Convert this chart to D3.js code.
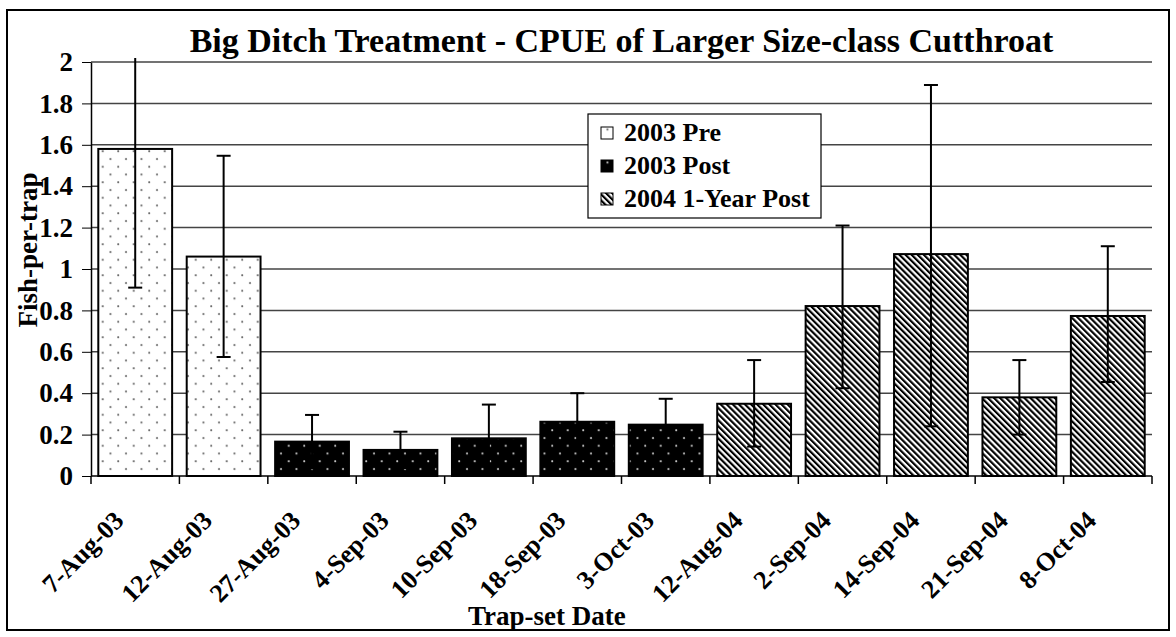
<!DOCTYPE html>
<html>
<head>
<meta charset="utf-8">
<script src="https://cdn.jsdelivr.net/npm/d3@7"></script>
<style>
  body { margin: 0; background: #fff; }
  svg text { font-family: "Liberation Serif", "Times New Roman", serif; font-weight: bold; }
</style>
</head>
<body>
<svg id="chart" width="1176" height="637"></svg>
<script>
// data
const dates = ["7-Aug-03", "12-Aug-03", "27-Aug-03", "4-Sep-03", "10-Sep-03", "18-Sep-03",
  "3-Oct-03", "12-Aug-04", "2-Sep-04", "14-Sep-04", "21-Sep-04", "8-Oct-04"];
const groups = ["pre", "pre", "post", "post", "post", "post", "post", "yr", "yr", "yr", "yr", "yr"];
const cpue = [1.58, 1.06, 0.166, 0.126, 0.182, 0.262, 0.248, 0.349, 0.821, 1.072, 0.38, 0.773];
const errHigh = [2.1, 1.547, 0.295, 0.214, 0.345, 0.40, 0.373, 0.56, 1.21, 1.889, 0.56, 1.11];
const errLow = [0.91, 0.575, 0.037, 0.038, 0.019, 0.124, 0.123, 0.142, 0.424, 0.24, 0.20, 0.454];
const yTicks = [0, 0.2, 0.4, 0.6, 0.8, 1, 1.2, 1.4, 1.6, 1.8, 2];
const legendKeys = ["pre", "post", "yr"];
const legendLabels = ["2003 Pre", "2003 Post", "2004 1-Year Post"];

const data = dates.map((d, i) => ({date: d, group: groups[i], v: cpue[i], hi: errHigh[i], lo: errLow[i]}));

// svg setting
const svg = d3.select("#chart");
const margin = {top: 62, right: 24, bottom: 161, left: 91};
const width = +svg.attr("width") - margin.left - margin.right;
const height = +svg.attr("height") - margin.top - margin.bottom;

// outer frame
svg.append("rect")
  .attr("x", 7).attr("y", 10).attr("width", 1162).attr("height", 620)
  .attr("fill", "none").attr("stroke", "#000").attr("stroke-width", 2);

// fill patterns
const defs = svg.append("defs");
const pre = defs.append("pattern").attr("id", "pat-pre")
  .attr("patternUnits", "userSpaceOnUse").attr("width", 15.5).attr("height", 15.5);
pre.append("rect").attr("width", 15.5).attr("height", 15.5).attr("fill", "#fff");
pre.append("circle").attr("cx", 4).attr("cy", 4).attr("r", 1).attr("fill", "#666");
pre.append("circle").attr("cx", 11.75).attr("cy", 11.75).attr("r", 1).attr("fill", "#666");

const post = defs.append("pattern").attr("id", "pat-post")
  .attr("patternUnits", "userSpaceOnUse").attr("width", 15.5).attr("height", 15.5);
post.append("rect").attr("width", 15.5).attr("height", 15.5).attr("fill", "#000");
post.append("circle").attr("cx", 4).attr("cy", 4).attr("r", 1).attr("fill", "#ccc");
post.append("circle").attr("cx", 11.75).attr("cy", 11.75).attr("r", 1).attr("fill", "#ccc");

const yr = defs.append("pattern").attr("id", "pat-yr")
  .attr("patternUnits", "userSpaceOnUse").attr("width", 4.3).attr("height", 10)
  .attr("patternTransform", "rotate(-45)");
yr.append("rect").attr("width", 4.3).attr("height", 10).attr("fill", "#fff");
yr.append("rect").attr("width", 2.15).attr("height", 10).attr("fill", "#000");

const fillOf = g => `url(#pat-${g})`;

defs.append("clipPath").attr("id", "plot-clip")
  .append("rect").attr("x", 0).attr("y", -4).attr("width", width).attr("height", height + 4);

const g = svg.append("g").attr("transform", `translate(${margin.left},${margin.top})`);

const x = d3.scaleBand().domain(dates).range([0, width]).paddingInner(0.165).paddingOuter(0.0825);
const xEdge = d3.scaleLinear().domain([0, dates.length]).range([0, width]);
const y = d3.scaleLinear().domain([0, 2]).range([height, 0]);

// gridlines
g.append("g").selectAll("line").data(yTicks.slice(1)).join("line")
  .attr("x1", 0).attr("x2", width)
  .attr("y1", d => y(d)).attr("y2", d => y(d))
  .attr("stroke", "#444").attr("stroke-width", 1.5);

// bars
g.append("g").selectAll("rect").data(data).join("rect")
  .attr("x", d => x(d.date))
  .attr("y", d => y(d.v))
  .attr("width", x.bandwidth())
  .attr("height", d => y(0) - y(d.v))
  .attr("fill", d => fillOf(d.group))
  .attr("stroke", "#000").attr("stroke-width", 2);

// error bars
const eb = g.append("g").attr("clip-path", "url(#plot-clip)")
  .selectAll("g").data(data).join("g")
  .attr("transform", d => `translate(${x(d.date) + x.bandwidth() / 2},0)`);
eb.append("line")
  .attr("y1", d => y(d.lo)).attr("y2", d => y(d.hi))
  .attr("stroke", "#000").attr("stroke-width", 2);
eb.append("line")
  .attr("x1", -7).attr("x2", 7)
  .attr("y1", d => y(d.hi)).attr("y2", d => y(d.hi))
  .attr("stroke", "#000").attr("stroke-width", 2);
eb.append("line")
  .attr("x1", -7).attr("x2", 7)
  .attr("y1", d => y(d.lo)).attr("y2", d => y(d.lo))
  .attr("stroke", "#000").attr("stroke-width", 2);

// y axis
const yAxis = g.append("g")
  .call(d3.axisLeft(y).tickValues(yTicks).tickFormat(d3.format("")).tickSize(9).tickSizeOuter(0));
yAxis.select(".domain").attr("stroke-width", 1.5);
yAxis.selectAll("text").attr("font-size", 27).attr("fill", "#000").attr("x", -18);

// x axis: ticks on category boundaries
const xAxis = g.append("g").attr("transform", `translate(0,${height})`);
xAxis.append("line").attr("x1", 0).attr("x2", width).attr("stroke", "#000").attr("stroke-width", 1.5);
xAxis.selectAll(".tk").data(d3.range(dates.length + 1)).join("line")
  .attr("class", "tk")
  .attr("x1", d => xEdge(d)).attr("x2", d => xEdge(d))
  .attr("y1", 0).attr("y2", 8)
  .attr("stroke", "#000").attr("stroke-width", 1.5);
xAxis.selectAll("text").data(dates).join("text")
  .attr("transform", d => `translate(${x(d) + x.bandwidth() / 2 - 10},${46}) rotate(-45)`)
  .attr("text-anchor", "end")
  .attr("font-size", 26)
  .text(d => d);

// titles
svg.append("text")
  .attr("x", margin.left + width / 2).attr("y", 52)
  .attr("text-anchor", "middle").attr("font-size", 34)
  .text("Big Ditch Treatment - CPUE of Larger Size-class Cutthroat");

svg.append("text")
  .attr("x", 468).attr("y", 625)
  .attr("text-anchor", "start").attr("font-size", 27)
  .text("Trap-set Date");

svg.append("text")
  .attr("transform", `translate(37,250) rotate(-90)`)
  .attr("text-anchor", "middle").attr("font-size", 27)
  .text("Fish-per-trap");

// legend
const legend = svg.append("g").attr("transform", "translate(588,114)");
legend.append("rect").attr("width", 233).attr("height", 104)
  .attr("fill", "#fff").attr("stroke", "#000").attr("stroke-width", 1.2);
const items = legend.selectAll(".item").data(legendKeys).join("g")
  .attr("class", "item")
  .attr("transform", (d, i) => `translate(0,${27 + i * 33})`);
items.append("rect").attr("x", 13).attr("y", -14).attr("width", 12).attr("height", 12)
  .attr("fill", d => fillOf(d)).attr("stroke", "#000").attr("stroke-width", 1);
items.append("text").attr("x", 36).attr("y", 0).attr("font-size", 26)
  .text((d, i) => legendLabels[i]);
</script>
</body>
</html>
